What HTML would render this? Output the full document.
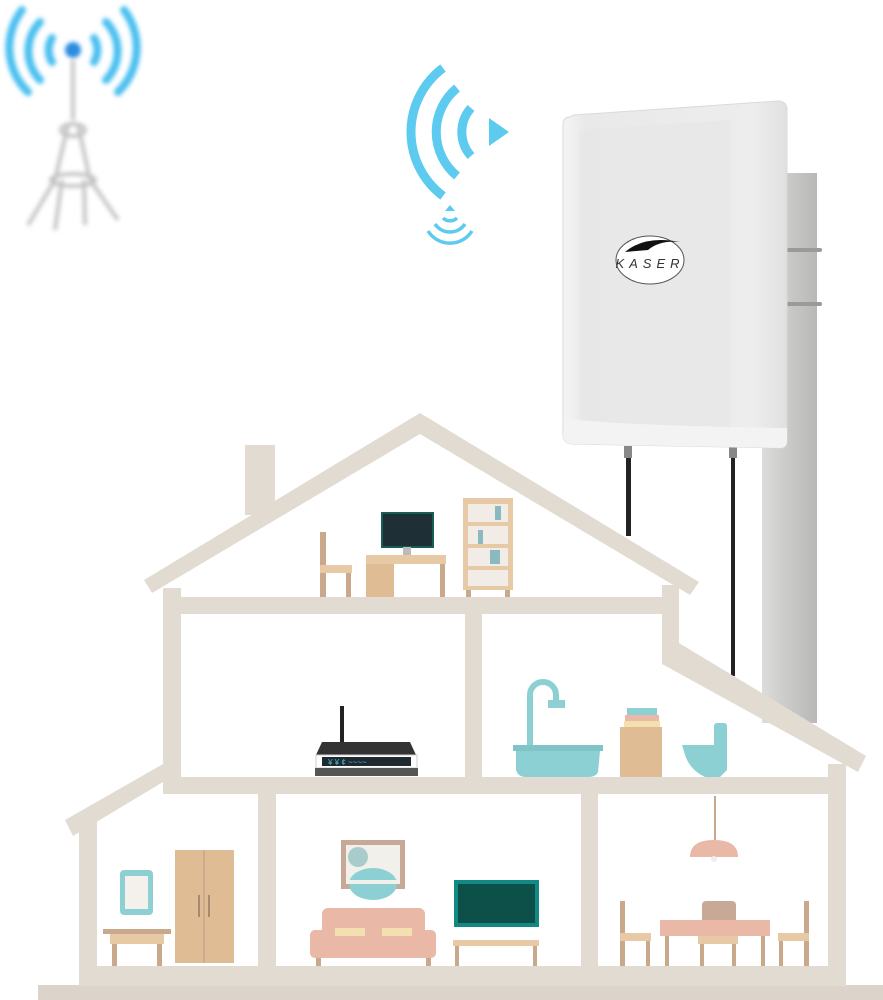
<!DOCTYPE html>
<html><head><meta charset="utf-8"><style>html,body{margin:0;padding:0;background:#fff}svg{display:block}</style></head>
<body>
<svg width="883" height="1000" viewBox="0 0 883 1000" xmlns="http://www.w3.org/2000/svg" font-family="Liberation Sans, sans-serif">
<defs>
<filter id="blur"><feGaussianBlur stdDeviation="2"/></filter>
<linearGradient id="pole" x1="0" x2="1"><stop offset="0" stop-color="#dcdcda"/><stop offset="0.5" stop-color="#c9c9c7"/><stop offset="1" stop-color="#b8b8b6"/></linearGradient>
<linearGradient id="panel" x1="0" x2="1"><stop offset="0" stop-color="#f4f4f4"/><stop offset="0.1" stop-color="#e9e9e9"/><stop offset="0.85" stop-color="#ededed"/><stop offset="1" stop-color="#e0e0e0"/></linearGradient>
</defs>

<!-- tower (blurred) -->
<g filter="url(#blur)">
<g fill="none" stroke="#4cc0f0" stroke-width="8" stroke-linecap="round">
<path d="M52,38 A23,23 0 0 0 52,62"/><path d="M94,38 A23,23 0 0 1 94,62"/>
<path d="M40,22 A42,42 0 0 0 40,80"/><path d="M106,22 A42,42 0 0 1 106,80"/>
<path d="M22,10 A62,62 0 0 0 28,92"/><path d="M124,10 A62,62 0 0 1 118,92"/>
</g>
<circle cx="73" cy="50" r="8" fill="#2a8ce0"/>
<g stroke="#c4c4c4" stroke-width="4" fill="none">
<path d="M73,60 L73,120 M68,125 L55,180 M78,125 L90,180 M55,180 L28,225 M90,180 L118,220 M62,180 L55,230 M84,180 L85,225"/>
<ellipse cx="73" cy="130" rx="12" ry="6"/>
<ellipse cx="73" cy="180" rx="22" ry="6"/>
</g>
</g>

<!-- wifi -->
<g fill="none" stroke="#5ccbef" stroke-width="9">
<path d="M471,108 A36,36 0 0 0 471,156"/>
<path d="M457,88 A57,57 0 0 0 457,176"/>
<path d="M443,68 A80,80 0 0 0 443,196"/>
</g>
<path d="M489,118 L509,132 L489,146 Z" fill="#5ccbef"/>
<g fill="none" stroke="#5ccbef" stroke-width="3.5">
<path d="M443,218 A10,10 0 0 0 457,218"/>
<path d="M435,224 A18,18 0 0 0 465,224"/>
<path d="M428,231 A26,26 0 0 0 472,231"/>
</g>
<path d="M445,211 L450,205 L455,211 Z" fill="#5ccbef"/>

<!-- pole -->
<rect x="762" y="173" width="55" height="550" fill="url(#pole)"/>
<rect x="784" y="248" width="38" height="4" rx="2" fill="#9a9a98"/>
<rect x="784" y="302" width="38" height="4" rx="2" fill="#9a9a98"/>

<!-- cables -->
<rect x="626" y="448" width="5" height="88" fill="#222"/>
<rect x="731" y="448" width="4" height="228" fill="#222"/>
<rect x="624" y="446" width="8" height="12" fill="#888"/>
<rect x="729" y="446" width="8" height="12" fill="#888"/>

<!-- panel -->
<path d="M570,117 Q563,117 563,125 L563,435 Q563,443 572,444 L780,448 Q787,448 787,440 L787,110 Q787,101 778,101 L574,115 Z" fill="url(#panel)" stroke="#dadada" stroke-width="1"/>
<path d="M580,130 L730,120 L730,430 L580,430 Z" fill="#e6e6e6" opacity="0.6"/>
<path d="M565,418 Q600,425 787,428 L787,440 Q787,448 780,448 L572,444 Q563,443 563,435 Z" fill="#f3f3f3"/>
<ellipse cx="650" cy="260" rx="34" ry="24" fill="#fff" stroke="#555" stroke-width="1"/>
<path d="M625,252 Q645,235 680,242 Q660,240 648,250 Z" fill="#111"/>
<text x="650" y="268" text-anchor="middle" font-size="13" font-style="italic" fill="#333" letter-spacing="5">KASER</text>

<!-- house -->
<g fill="#e2dbd1">
<rect x="38" y="985" width="845" height="15" fill="#dcd4ca"/>
<rect x="245" y="445" width="30" height="70"/>
<polygon points="144,580 420,413 699,582 690,595 420,434 152,593"/>
<rect x="163" y="588" width="18" height="191"/>
<rect x="163" y="597" width="516" height="17"/>
<rect x="662" y="585" width="17" height="62"/>
<polygon points="662,647 679,643 866,756 858,772 662,664"/>
<rect x="465" y="605" width="17" height="175"/>
<rect x="163" y="777" width="683" height="17"/>
<polygon points="163,764 163,782 73,836 65,820"/>
<rect x="79" y="820" width="18" height="160"/>
<rect x="258" y="790" width="18" height="180"/>
<rect x="581" y="790" width="17" height="180"/>
<rect x="828" y="764" width="18" height="216"/>
<rect x="79" y="966" width="767" height="20"/>
</g>

<!-- attic furniture -->
<g>
<rect x="320" y="532" width="6" height="65" fill="#c9a88c"/>
<rect x="320" y="565" width="32" height="8" fill="#e7c9a6"/>
<rect x="346" y="573" width="5" height="24" fill="#c9a88c"/>
<rect x="366" y="555" width="80" height="9" fill="#e7c9a6"/>
<rect x="366" y="564" width="28" height="33" fill="#e0bc95"/>
<rect x="440" y="564" width="5" height="33" fill="#c9a88c"/>
<rect x="382" y="513" width="51" height="34" fill="#1f2f36" stroke="#1a5c58" stroke-width="2"/>
<rect x="403" y="547" width="8" height="8" fill="#bbb"/>
<rect x="463" y="498" width="50" height="92" fill="#e7c9a6"/>
<rect x="468" y="504" width="40" height="18" fill="#f1ede6"/>
<rect x="468" y="526" width="40" height="18" fill="#f1ede6"/>
<rect x="468" y="548" width="40" height="18" fill="#f1ede6"/>
<rect x="468" y="570" width="40" height="16" fill="#f1ede6"/>
<rect x="495" y="506" width="6" height="14" fill="#8ab9c0"/>
<rect x="478" y="530" width="5" height="14" fill="#8ab9c0"/>
<rect x="490" y="550" width="10" height="14" fill="#8ab9c0"/>
<rect x="466" y="590" width="5" height="7" fill="#c9a88c"/>
<rect x="505" y="590" width="5" height="7" fill="#c9a88c"/>
</g>

<!-- router -->
<rect x="340" y="706" width="4" height="38" fill="#222"/>
<polygon points="322,742 410,742 416,755 316,755" fill="#333"/>
<rect x="316" y="755" width="101" height="13" fill="#fff" stroke="#ccc"/>
<rect x="322" y="757" width="89" height="9" fill="#1e2a30"/>
<text x="328" y="765" font-size="8" fill="#4bc1d8">¥ ¥ ¢  ~~~~</text>
<rect x="315" y="768" width="103" height="8" fill="#555"/>

<!-- bathroom -->
<path d="M530,745 L530,695 A13,13 0 0 1 556,695 L556,700" fill="none" stroke="#8dd0d3" stroke-width="6"/>
<rect x="548" y="700" width="17" height="8" fill="#8dd0d3"/>
<rect x="513" y="745" width="90" height="6" fill="#7ec4c8"/>
<path d="M516,751 L600,751 L598,772 Q596,777 588,777 L526,777 Q518,777 516,770 Z" fill="#8dd0d3"/>
<rect x="627" y="708" width="30" height="7" fill="#8dd0d3"/>
<rect x="625" y="715" width="34" height="6" fill="#eab8a6"/>
<rect x="624" y="721" width="36" height="6" fill="#f3dfb0"/>
<rect x="620" y="727" width="42" height="50" fill="#e0bc95"/>
<rect x="714" y="723" width="13" height="30" rx="3" fill="#8dd0d3"/>
<path d="M682,745 L727,745 L727,770 L720,777 L705,777 Q690,770 685,755 Z" fill="#8dd0d3"/>

<!-- lower left -->
<rect x="120" y="870" width="33" height="45" rx="4" fill="#8dd0d3"/>
<rect x="125" y="876" width="23" height="33" fill="#f4f1ec"/>
<rect x="103" y="929" width="68" height="5" fill="#c9a88c"/>
<rect x="110" y="934" width="54" height="10" fill="#e7c9a6"/>
<rect x="112" y="944" width="5" height="22" fill="#c9a88c"/>
<rect x="157" y="944" width="5" height="22" fill="#c9a88c"/>
<rect x="175" y="850" width="59" height="113" fill="#e0bc95"/>
<line x1="204" y1="850" x2="204" y2="963" stroke="#c9a88c" stroke-width="1.5"/>
<rect x="198" y="895" width="2" height="22" fill="#a88a70"/>
<rect x="208" y="895" width="2" height="22" fill="#a88a70"/>

<!-- living -->
<rect x="341" y="840" width="64" height="49" fill="#c8a998"/>
<rect x="346" y="845" width="54" height="39" fill="#f2f0ea"/>
<circle cx="358" cy="857" r="10" fill="#a8cccc"/>
<ellipse cx="373" cy="884" rx="24" ry="16" fill="#8dd0d3"/>
<rect x="346" y="880" width="54" height="4" fill="#f2f0ea"/>
<rect x="322" y="908" width="103" height="30" rx="6" fill="#eab8a6"/>
<rect x="310" y="930" width="126" height="28" rx="5" fill="#eab8a6"/>
<rect x="335" y="928" width="30" height="8" fill="#f3dfb0"/>
<rect x="382" y="928" width="30" height="8" fill="#f3dfb0"/>
<rect x="316" y="958" width="5" height="8" fill="#c9a88c"/>
<rect x="426" y="958" width="5" height="8" fill="#c9a88c"/>
<rect x="454" y="880" width="85" height="47" fill="#128a83"/>
<rect x="458" y="884" width="77" height="39" fill="#0d4f49"/>
<rect x="453" y="940" width="86" height="6" fill="#e7c9a6"/>
<rect x="455" y="946" width="4" height="20" fill="#c9a88c"/>
<rect x="533" y="946" width="4" height="20" fill="#c9a88c"/>

<!-- dining -->
<rect x="714" y="796" width="2" height="44" fill="#c9a88c"/>
<path d="M690,857 Q690,840 714,840 Q738,840 738,857 Z" fill="#eab8a6"/>
<circle cx="714" cy="859" r="3" fill="#eee"/>
<rect x="620" y="901" width="5" height="65" fill="#c9a88c"/>
<rect x="620" y="933" width="31" height="8" fill="#e7c9a6"/>
<rect x="646" y="941" width="4" height="25" fill="#c9a88c"/>
<rect x="804" y="901" width="5" height="65" fill="#c9a88c"/>
<rect x="778" y="933" width="31" height="8" fill="#e7c9a6"/>
<rect x="779" y="941" width="4" height="25" fill="#c9a88c"/>
<rect x="702" y="901" width="34" height="22" rx="4" fill="#c8a998"/>
<rect x="660" y="920" width="110" height="16" fill="#eab8a6"/>
<rect x="665" y="936" width="4" height="30" fill="#c9a88c"/>
<rect x="761" y="936" width="4" height="30" fill="#c9a88c"/>
<rect x="698" y="936" width="40" height="8" fill="#e7c9a6"/>
<rect x="700" y="944" width="4" height="22" fill="#c9a88c"/>
<rect x="732" y="944" width="4" height="22" fill="#c9a88c"/>
</svg>
</body></html>
